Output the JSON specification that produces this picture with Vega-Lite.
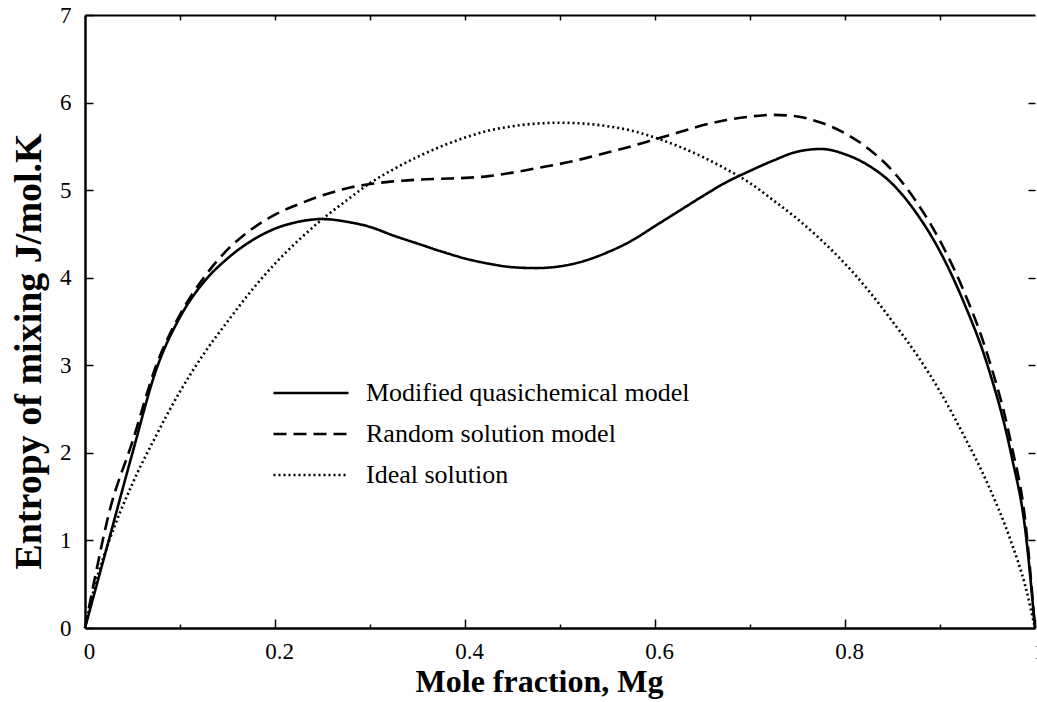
{
  "$schema": "https://vega.github.io/schema/vega-lite/v6.json",
  "width": 950,
  "height": 613,
  "autosize": "none",
  "padding": {"left": 85, "top": 15, "right": 2, "bottom": 74},
  "background": "white",
  "config": {
    "view": {"stroke": null},
    "font": "Liberation Serif",
    "axis": {
      "grid": false,
      "labelFont": "Liberation Serif",
      "titleFont": "Liberation Serif",
      "domainColor": "black",
      "tickColor": "black",
      "labelColor": "black",
      "titleColor": "black",
      "labelFontSize": 23,
      "titleFontSize": 32,
      "titleFontWeight": "bold",
      "tickWidth": 1.5,
      "domainWidth": 2.5
    }
  },
  "data": {
    "values": [
      {"x": 0, "y": 0, "model": "Modified quasichemical model"},
      {"x": 0.01, "y": 0.4, "model": "Modified quasichemical model"},
      {"x": 0.025, "y": 1.0, "model": "Modified quasichemical model"},
      {"x": 0.05, "y": 2.0, "model": "Modified quasichemical model"},
      {"x": 0.075, "y": 2.95, "model": "Modified quasichemical model"},
      {"x": 0.1, "y": 3.55, "model": "Modified quasichemical model"},
      {"x": 0.125, "y": 3.95, "model": "Modified quasichemical model"},
      {"x": 0.15, "y": 4.22, "model": "Modified quasichemical model"},
      {"x": 0.175, "y": 4.42, "model": "Modified quasichemical model"},
      {"x": 0.2, "y": 4.56, "model": "Modified quasichemical model"},
      {"x": 0.225, "y": 4.64, "model": "Modified quasichemical model"},
      {"x": 0.25, "y": 4.67, "model": "Modified quasichemical model"},
      {"x": 0.275, "y": 4.64, "model": "Modified quasichemical model"},
      {"x": 0.3, "y": 4.58, "model": "Modified quasichemical model"},
      {"x": 0.325, "y": 4.48, "model": "Modified quasichemical model"},
      {"x": 0.35, "y": 4.39, "model": "Modified quasichemical model"},
      {"x": 0.375, "y": 4.3, "model": "Modified quasichemical model"},
      {"x": 0.4, "y": 4.22, "model": "Modified quasichemical model"},
      {"x": 0.425, "y": 4.16, "model": "Modified quasichemical model"},
      {"x": 0.45, "y": 4.12, "model": "Modified quasichemical model"},
      {"x": 0.475, "y": 4.11, "model": "Modified quasichemical model"},
      {"x": 0.5, "y": 4.13, "model": "Modified quasichemical model"},
      {"x": 0.525, "y": 4.19, "model": "Modified quasichemical model"},
      {"x": 0.55, "y": 4.29, "model": "Modified quasichemical model"},
      {"x": 0.575, "y": 4.42, "model": "Modified quasichemical model"},
      {"x": 0.6, "y": 4.59, "model": "Modified quasichemical model"},
      {"x": 0.625, "y": 4.76, "model": "Modified quasichemical model"},
      {"x": 0.65, "y": 4.93, "model": "Modified quasichemical model"},
      {"x": 0.675, "y": 5.09, "model": "Modified quasichemical model"},
      {"x": 0.7, "y": 5.22, "model": "Modified quasichemical model"},
      {"x": 0.725, "y": 5.34, "model": "Modified quasichemical model"},
      {"x": 0.75, "y": 5.44, "model": "Modified quasichemical model"},
      {"x": 0.775, "y": 5.47, "model": "Modified quasichemical model"},
      {"x": 0.8, "y": 5.41, "model": "Modified quasichemical model"},
      {"x": 0.825, "y": 5.28, "model": "Modified quasichemical model"},
      {"x": 0.85, "y": 5.07, "model": "Modified quasichemical model"},
      {"x": 0.875, "y": 4.74, "model": "Modified quasichemical model"},
      {"x": 0.9, "y": 4.3, "model": "Modified quasichemical model"},
      {"x": 0.925, "y": 3.72, "model": "Modified quasichemical model"},
      {"x": 0.95, "y": 3.0, "model": "Modified quasichemical model"},
      {"x": 0.975, "y": 1.98, "model": "Modified quasichemical model"},
      {"x": 0.99, "y": 1.1, "model": "Modified quasichemical model"},
      {"x": 1, "y": 0, "model": "Modified quasichemical model"},
      {"x": 0, "y": 0, "model": "Random solution model"},
      {"x": 0.01, "y": 0.55, "model": "Random solution model"},
      {"x": 0.025, "y": 1.3, "model": "Random solution model"},
      {"x": 0.05, "y": 2.13, "model": "Random solution model"},
      {"x": 0.075, "y": 3.0, "model": "Random solution model"},
      {"x": 0.1, "y": 3.58, "model": "Random solution model"},
      {"x": 0.125, "y": 4.0, "model": "Random solution model"},
      {"x": 0.15, "y": 4.32, "model": "Random solution model"},
      {"x": 0.175, "y": 4.55, "model": "Random solution model"},
      {"x": 0.2, "y": 4.72, "model": "Random solution model"},
      {"x": 0.225, "y": 4.84, "model": "Random solution model"},
      {"x": 0.25, "y": 4.94, "model": "Random solution model"},
      {"x": 0.275, "y": 5.02, "model": "Random solution model"},
      {"x": 0.3, "y": 5.07, "model": "Random solution model"},
      {"x": 0.325, "y": 5.1, "model": "Random solution model"},
      {"x": 0.35, "y": 5.12, "model": "Random solution model"},
      {"x": 0.375, "y": 5.13, "model": "Random solution model"},
      {"x": 0.4, "y": 5.14, "model": "Random solution model"},
      {"x": 0.425, "y": 5.16, "model": "Random solution model"},
      {"x": 0.45, "y": 5.2, "model": "Random solution model"},
      {"x": 0.475, "y": 5.25, "model": "Random solution model"},
      {"x": 0.5, "y": 5.3, "model": "Random solution model"},
      {"x": 0.525, "y": 5.36, "model": "Random solution model"},
      {"x": 0.55, "y": 5.43, "model": "Random solution model"},
      {"x": 0.575, "y": 5.5, "model": "Random solution model"},
      {"x": 0.6, "y": 5.58, "model": "Random solution model"},
      {"x": 0.625, "y": 5.66, "model": "Random solution model"},
      {"x": 0.65, "y": 5.74, "model": "Random solution model"},
      {"x": 0.675, "y": 5.8, "model": "Random solution model"},
      {"x": 0.7, "y": 5.84, "model": "Random solution model"},
      {"x": 0.725, "y": 5.86, "model": "Random solution model"},
      {"x": 0.75, "y": 5.84, "model": "Random solution model"},
      {"x": 0.775, "y": 5.77, "model": "Random solution model"},
      {"x": 0.8, "y": 5.65, "model": "Random solution model"},
      {"x": 0.825, "y": 5.47, "model": "Random solution model"},
      {"x": 0.85, "y": 5.22, "model": "Random solution model"},
      {"x": 0.875, "y": 4.87, "model": "Random solution model"},
      {"x": 0.9, "y": 4.42, "model": "Random solution model"},
      {"x": 0.925, "y": 3.85, "model": "Random solution model"},
      {"x": 0.95, "y": 3.12, "model": "Random solution model"},
      {"x": 0.975, "y": 2.1, "model": "Random solution model"},
      {"x": 0.99, "y": 1.2, "model": "Random solution model"},
      {"x": 1, "y": 0, "model": "Random solution model"},
      {"x": 0, "y": 0, "model": "Ideal solution"},
      {"x": 0.01, "y": 0.47, "model": "Ideal solution"},
      {"x": 0.025, "y": 0.98, "model": "Ideal solution"},
      {"x": 0.05, "y": 1.65, "model": "Ideal solution"},
      {"x": 0.075, "y": 2.2, "model": "Ideal solution"},
      {"x": 0.1, "y": 2.7, "model": "Ideal solution"},
      {"x": 0.125, "y": 3.13, "model": "Ideal solution"},
      {"x": 0.15, "y": 3.5, "model": "Ideal solution"},
      {"x": 0.175, "y": 3.85, "model": "Ideal solution"},
      {"x": 0.2, "y": 4.16, "model": "Ideal solution"},
      {"x": 0.225, "y": 4.43, "model": "Ideal solution"},
      {"x": 0.25, "y": 4.67, "model": "Ideal solution"},
      {"x": 0.275, "y": 4.88, "model": "Ideal solution"},
      {"x": 0.3, "y": 5.08, "model": "Ideal solution"},
      {"x": 0.325, "y": 5.24, "model": "Ideal solution"},
      {"x": 0.35, "y": 5.38, "model": "Ideal solution"},
      {"x": 0.375, "y": 5.5, "model": "Ideal solution"},
      {"x": 0.4, "y": 5.6, "model": "Ideal solution"},
      {"x": 0.425, "y": 5.68, "model": "Ideal solution"},
      {"x": 0.45, "y": 5.73, "model": "Ideal solution"},
      {"x": 0.475, "y": 5.76, "model": "Ideal solution"},
      {"x": 0.5, "y": 5.77, "model": "Ideal solution"},
      {"x": 0.525, "y": 5.76, "model": "Ideal solution"},
      {"x": 0.55, "y": 5.73, "model": "Ideal solution"},
      {"x": 0.575, "y": 5.68, "model": "Ideal solution"},
      {"x": 0.6, "y": 5.6, "model": "Ideal solution"},
      {"x": 0.625, "y": 5.5, "model": "Ideal solution"},
      {"x": 0.65, "y": 5.38, "model": "Ideal solution"},
      {"x": 0.675, "y": 5.24, "model": "Ideal solution"},
      {"x": 0.7, "y": 5.08, "model": "Ideal solution"},
      {"x": 0.725, "y": 4.88, "model": "Ideal solution"},
      {"x": 0.75, "y": 4.67, "model": "Ideal solution"},
      {"x": 0.775, "y": 4.43, "model": "Ideal solution"},
      {"x": 0.8, "y": 4.16, "model": "Ideal solution"},
      {"x": 0.825, "y": 3.85, "model": "Ideal solution"},
      {"x": 0.85, "y": 3.5, "model": "Ideal solution"},
      {"x": 0.875, "y": 3.13, "model": "Ideal solution"},
      {"x": 0.9, "y": 2.7, "model": "Ideal solution"},
      {"x": 0.925, "y": 2.2, "model": "Ideal solution"},
      {"x": 0.95, "y": 1.65, "model": "Ideal solution"},
      {"x": 0.975, "y": 0.98, "model": "Ideal solution"},
      {"x": 0.99, "y": 0.47, "model": "Ideal solution"},
      {"x": 1, "y": 0, "model": "Ideal solution"}
    ]
  },
  "layer": [
    {
      "mark": {"type": "line", "color": "black", "strokeCap": "butt", "interpolate": "monotone"},
      "encoding": {
        "x": {
          "field": "x", "type": "quantitative",
          "scale": {"domain": [0, 1], "nice": false, "zero": false},
          "axis": {
            "orient": "bottom",
            "values": [0, 0.2, 0.4, 0.6, 0.8, 1],
            "labelExpr": "'' + datum.value",
            "tickSize": -9,
            "labelPadding": 21,
            "labelOffset": 4,
            "labelFlush": false,
            "labelOverlap": false,
            "title": "Mole fraction, Mg",
            "titleX": 454,
            "titleY": 63,
            "titleBaseline": "alphabetic"
          }
        },
        "y": {
          "field": "y", "type": "quantitative",
          "scale": {"domain": [0, 7], "nice": false},
          "axis": {
            "orient": "left",
            "values": [0, 1, 2, 3, 4, 5, 6, 7],
            "format": "d",
            "tickSize": -8,
            "labelPadding": 22,
            "labelFlush": false,
            "labelOverlap": false,
            "title": "Entropy of mixing J/mol.K",
            "titleFontSize": 38,
            "titleX": -45,
            "titleY": 336,
            "titleBaseline": "alphabetic"
          }
        },
        "strokeDash": {
          "field": "model", "type": "ordinal",
          "scale": {
            "domain": ["Modified quasichemical model", "Random solution model", "Ideal solution"],
            "range": [[1, 0], [13, 7], [2, 3]]
          },
          "legend": {
            "orient": "none",
            "legendX": 187,
            "legendY": 358,
            "title": null,
            "symbolType": "stroke",
            "symbolSize": 5625,
            "symbolStrokeColor": "black",
            "labelFont": "Liberation Serif",
            "labelFontSize": 26,
            "labelColor": "black",
            "labelOffset": 16,
            "labelLimit": 0,
            "clipHeight": 40,
            "rowPadding": 1
          }
        },
        "strokeWidth": {
          "field": "model", "type": "ordinal",
          "scale": {
            "domain": ["Modified quasichemical model", "Random solution model", "Ideal solution"],
            "range": [2.6, 2.6, 1.8]
          },
          "legend": {
            "orient": "none",
            "legendX": 187,
            "legendY": 358,
            "title": null,
            "symbolType": "stroke",
            "symbolSize": 5625,
            "symbolStrokeColor": "black",
            "labelFont": "Liberation Serif",
            "labelFontSize": 26,
            "labelColor": "black",
            "labelOffset": 16,
            "labelLimit": 0,
            "clipHeight": 40,
            "rowPadding": 1
          }
        }
      }
    },
    {
      "mark": {"type": "point", "opacity": 0},
      "encoding": {
        "x": {
          "field": "x", "type": "quantitative",
          "axis": {
            "orient": "bottom",
            "values": [0.1, 0.3, 0.5, 0.7, 0.9],
            "labels": false,
            "domain": false,
            "tickSize": -4,
            "title": null
          }
        },
        "y": {
          "field": "y", "type": "quantitative",
          "axis": {
            "orient": "right",
            "values": [1, 2, 3, 4, 5, 6],
            "labels": false,
            "domain": false,
            "tickSize": -7,
            "title": null
          }
        }
      }
    },
    {
      "mark": {"type": "point", "opacity": 0},
      "encoding": {
        "x": {
          "field": "x", "type": "quantitative",
          "axis": {
            "orient": "top",
            "values": [0.1, 0.2, 0.3, 0.4, 0.5, 0.6, 0.7, 0.8, 0.9],
            "labels": false,
            "domain": true,
            "domainWidth": 2,
            "tickSize": -5,
            "title": null
          }
        },
        "y": {"field": "y", "type": "quantitative", "axis": null}
      }
    }
  ],
  "resolve": {"axis": {"x": "independent", "y": "independent"}}
}
